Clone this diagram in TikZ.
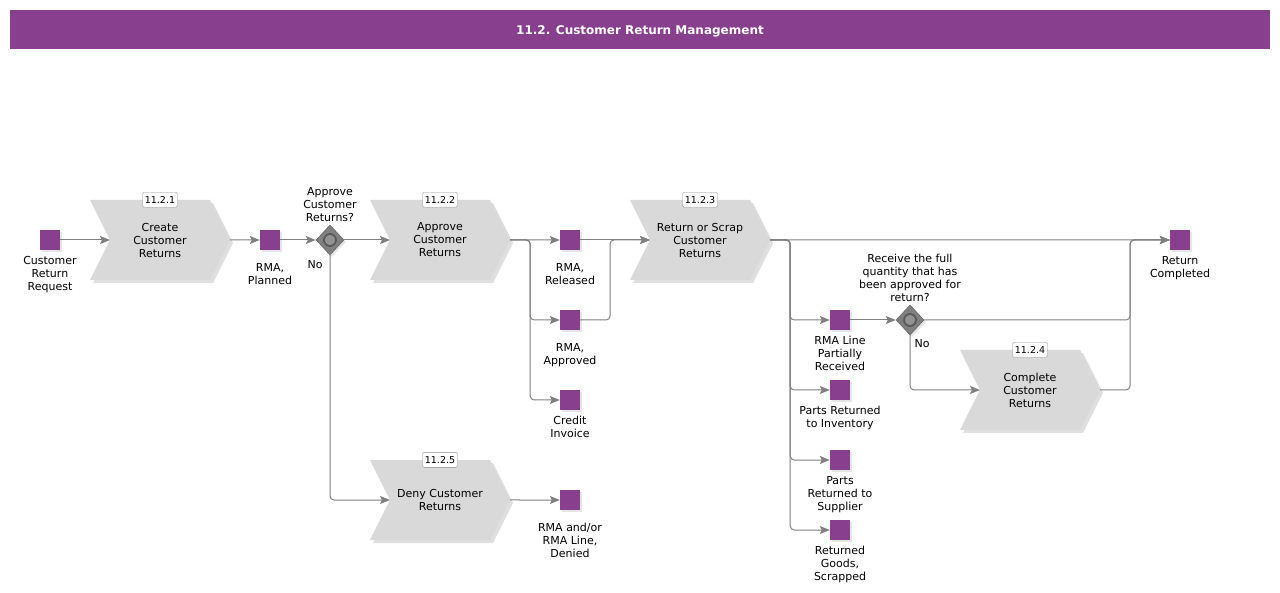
\documentclass[tikz,border=0pt]{standalone}
\usepackage{fontspec}
\setmainfont{DejaVu Sans}
\usetikzlibrary{positioning,shapes.symbols,shapes.geometric,shadows,arrows.meta}

\definecolor{rmapurple}{HTML}{883F8E}
\definecolor{procgray}{HTML}{D9D9D9}
\definecolor{linegray}{HTML}{808080}
\definecolor{gategray}{HTML}{7F7F7F}

\tikzset{
  event/.style={rectangle, fill=rmapurple, minimum size=20pt, inner sep=0pt,
    drop shadow={shadow xshift=2pt, shadow yshift=-2pt, fill=black!20}},
  proc/.style={signal, signal from=west, signal to=east, signal pointer angle=127,
    fill=procgray, minimum width=140pt, minimum height=80pt, align=center,
    drop shadow={shadow xshift=3pt, shadow yshift=-3pt, fill=black!25}},
  gate/.style={diamond, fill=gategray, draw=gategray!70!black, minimum width=28pt,
    minimum height=30pt, inner sep=0pt,
    drop shadow={shadow xshift=2pt, shadow yshift=-2pt, fill=black!20},
    path picture={\draw[line width=1.8pt, fill=gategray!85!white]
      (path picture bounding box.center) circle (6pt);}},
  tag/.style={draw=black!45, fill=white, rounded corners=1.5pt, inner sep=1.5pt,
    minimum width=35pt, minimum height=15pt, font=\fontsize{9.5}{10}\selectfont},
  titlebar/.style={fill=rmapurple, text=white, minimum width=1260pt, minimum height=39pt,
    text height=11pt, text depth=0pt, font=\bfseries\fontsize{12}{14}\selectfont},
  flow/.style={draw=linegray, line width=1pt, rounded corners=4pt,
    -{Stealth[length=10pt,width=8pt,inset=2pt,fill=linegray]}},
  lowlabel/.style={label distance=12pt},
  every label/.append style={align=center, inner sep=1pt, label distance=5pt},
}

\begin{document}
\begin{tikzpicture}[x=1pt,y=-1pt,node distance=2cm,on grid,font=\fontsize{11}{13}\selectfont]
  \useasboundingbox (0,0) rectangle (1280,593);
  \node[titlebar] (title) at (640,29.5) {11.2. Customer Return Management};

  % main row
  \node[event] (crr) at (50,240) [label={below:Customer\\Return\\Request}] {};
  \node[proc] (create)  [right=110pt of crr]    {Create\\Customer\\Returns};
  \node[event] (rmapl)  [right=110pt of create, label={[lowlabel]below:RMA,\\Planned}] {};
  \node[gate] (gw1)     [right=60pt of rmapl, label={[label distance=2pt]above:Approve\\Customer\\Returns?}] {};
  \node (gw1-no)        [below left=25pt and 15pt of gw1] {No};
  \node[proc] (approve) [right=110pt of gw1]    {Approve\\Customer\\Returns};
  \node[event] (rmarel) [right=130pt of approve, label={[lowlabel]below:RMA,\\Released}] {};
  \node[event] (rmaapp) [below=80pt of rmarel, label={[lowlabel]below:RMA,\\Approved}] {};
  \node[event] (credit) [below=80pt of rmaapp, label={below:Credit\\Invoice}] {};
  \node[proc] (deny)    [below=260pt of approve] {Deny Customer\\Returns};
  \node[event] (denied) [below=260pt of rmarel, label={[lowlabel]below:RMA and/or\\RMA Line,\\Denied}] {};
  \node[proc] (rsc)     [right=130pt of rmarel] {Return or Scrap\\Customer\\Returns};
  \node[event] (retc)   [right=480pt of rsc, label={below:Return\\Completed}] {};

  % receiving branch
  \node[event] (rmalp)  [below right=80pt and 140pt of rsc, label={below:RMA Line\\Partially\\Received}] {};
  \node[event] (pri)    [below=70pt of rmalp, label={below:Parts Returned\\to Inventory}] {};
  \node[event] (prs)    [below=70pt of pri, label={below:Parts\\Returned to\\Supplier}] {};
  \node[event] (rgs)    [below=70pt of prs, label={below:Returned\\Goods,\\Scrapped}] {};
  \node[gate] (gw2)     [right=70pt of rmalp, label={[label distance=2pt]above:Receive the full\\quantity that has\\been approved for\\return?}] {};
  \node (gw2-no)        [below right=24pt and 12pt of gw2] {No};
  \node[proc] (complete) [below right=70pt and 120pt of gw2] {Complete\\Customer\\Returns};

  % number tags
  \node[tag] (create-tag)   at (create.north)   {11.2.1};
  \node[tag] (approve-tag)  at (approve.north)  {11.2.2};
  \node[tag] (rsc-tag)      at (rsc.north)      {11.2.3};
  \node[tag] (complete-tag) at (complete.north) {11.2.4};
  \node[tag] (deny-tag)     at (deny.north)     {11.2.5};

  % entry points and junctions
  \coordinate (create-in)   at ([xshift=-50pt]create.center);
  \coordinate (approve-in)  at ([xshift=-50pt]approve.center);
  \coordinate (deny-in)     at ([xshift=-50pt]deny.center);
  \coordinate (rsc-in)      at ([xshift=-50pt]rsc.center);
  \coordinate (complete-in) at ([xshift=-50pt]complete.center);
  \coordinate[right=20pt of approve.east] (split1);
  \coordinate[right=40pt of rmarel]       (join1);
  \coordinate[right=20pt of rsc.east]     (split2);
  \coordinate[left=50pt of retc]          (join2);

  \path[flow]
    (crr) edge (create-in)
    (create) edge (rmapl)
    (rmapl) edge (gw1)
    (gw1) edge (approve-in)
    (approve) edge (rmarel)
    (rmarel) edge (rsc-in)
    (rsc) edge (retc)
    (rmalp) edge (gw2)
    (deny) edge (denied);

  \draw[flow] (gw1) |- (deny-in);
  \draw[flow] (approve.east) -- (split1) |- (rmaapp);
  \draw[flow] (approve.east) -- (split1) |- (credit);
  \draw[flow] (rmaapp) -| (join1) -- (rsc-in);
  \draw[flow] (rsc.east) -- (split2) |- (rmalp);
  \draw[flow] (rsc.east) -- (split2) |- (pri);
  \draw[flow] (rsc.east) -- (split2) |- (prs);
  \draw[flow] (rsc.east) -- (split2) |- (rgs);
  \draw[flow] (gw2) -| (join2) -- (retc);
  \draw[flow] (gw2) |- (complete-in);
  \draw[flow] (complete) -| (join2) -- (retc);
\end{tikzpicture}
\end{document}
